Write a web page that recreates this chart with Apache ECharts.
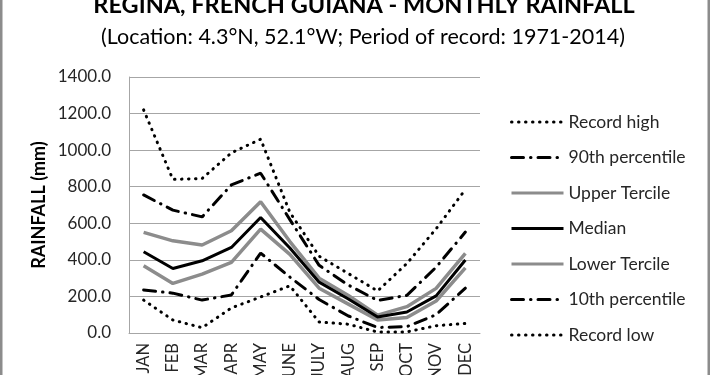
<!DOCTYPE html>
<html>
<head>
<meta charset="utf-8">
<script src="https://cdn.jsdelivr.net/npm/echarts@6/dist/echarts.min.js"></script>
<style>
html,body{margin:0;padding:0;background:#fff;}
#c{width:710px;height:375px;}
</style>
</head>
<body>
<div id="c"></div>
<script>
var months = ['JAN','FEB','MAR','APR','MAY','JUNE','JULY','AUG','SEP','OCT','NOV','DEC'];
var recordHigh   = [1220, 840, 845, 985, 1060, 660, 420, 325, 230, 380, 570, 785];
var p90          = [755, 672, 635, 810, 874, 620, 370, 262, 178, 206, 360, 552];
var upperTercile = [550, 504, 481, 559, 718, 500, 300, 205, 98, 144, 244, 435];
var median       = [444, 353, 395, 468, 632, 465, 278, 186, 87, 115, 203, 399];
var lowerTercile = [368, 271, 322, 386, 568, 430, 245, 158, 71, 85, 175, 356];
var p10          = [235, 218, 180, 208, 437, 306, 183, 93, 30, 35, 100, 245];
var recordLow    = [180, 71, 29, 137, 197, 258, 60, 48, 5, 6, 40, 52];
var seriesNames = ['Record high','90th percentile','Upper Tercile','Median','Lower Tercile','10th percentile','Record low'];

var FONT = 'Lato, "Open Sans", sans-serif';
var dotted = {color:'#000', width:3, type:[0.5,6.5], cap:'round'};
var dashDot = {color:'#000', width:3, type:[12,7,0.5,7], cap:'round'};
var gray = {color:'#8c8c8c', width:3.5, type:'solid'};
var black = {color:'#000', width:3, type:'solid'};
var styles = [dotted, dashDot, gray, black, gray, dashDot, dotted];
var datas = [recordHigh, p90, upperTercile, median, lowerTercile, p10, recordLow];

var series = seriesNames.map(function(n,i){
  return {name:n, type:'line', data:datas[i], symbol:'none', showSymbol:false,
    lineStyle:styles[i], itemStyle:{color:styles[i].color}, z: (i===3?5:(i===2||i===4?4:3)), animation:false};
});

var chart = echarts.init(document.getElementById('c'));
chart.setOption({
  animation:false,
  backgroundColor:'#fff',
  graphic:[
    {type:'text', style:{text:'REGINA, FRENCH GUIANA - MONTHLY RAINFALL', x:364, y:5, align:'center', verticalAlign:'middle', font:'bold 23.5px '+FONT, fill:'#000'}},
    {type:'text', style:{text:'(Location: 4.3°N, 52.1°W; Period of record: 1971-2014)', x:363, y:37, align:'center', verticalAlign:'middle', font:'21.5px '+FONT, fill:'#000'}},
    {type:'line', shape:{x1:1.25,y1:0,x2:1.25,y2:375}, style:{stroke:'#8c8c8c', lineWidth:2.5}},
    {type:'line', shape:{x1:708.75,y1:0,x2:708.75,y2:375}, style:{stroke:'#8c8c8c', lineWidth:2.5}}
  ],
  grid:{left:129, right:230, top:77, bottom:42, containLabel:false, outerBoundsMode:'none'},
  legend:{
    orient:'vertical', left:510, top:113, padding:0, itemWidth:52, itemHeight:18, itemGap:17.5,
    data:seriesNames, selectedMode:false,
    itemStyle:{opacity:0},
    lineStyle:{width:3},
    textStyle:{fontFamily:FONT, fontSize:17.5, color:'#262626'}
  },
  xAxis:{
    type:'category', data:months, boundaryGap:true,
    axisLine:{show:true, lineStyle:{color:'#a6a6a6', width:1}},
    axisTick:{show:false},
    axisLabel:{rotate:90, fontFamily:FONT, fontSize:16.5, color:'#262626', margin:10, interval:0},
    splitLine:{show:false}
  },
  yAxis:{
    type:'value', min:0, max:1400, interval:200,
    name:'RAINFALL (mm)', nameLocation:'middle', nameGap:81, nameRotate:90,
    nameTextStyle:{fontFamily:FONT, fontSize:18, fontWeight:'bold', color:'#000'},
    axisLine:{show:true, lineStyle:{color:'#a6a6a6', width:1}},
    axisTick:{show:false},
    axisLabel:{fontFamily:FONT, fontSize:17, color:'#262626', margin:18, formatter:function(v){return v.toFixed(1);}},
    splitLine:{show:true, lineStyle:{color:'#a6a6a6', width:1}}
  },
  series:series
});
</script>
</body>
</html>
